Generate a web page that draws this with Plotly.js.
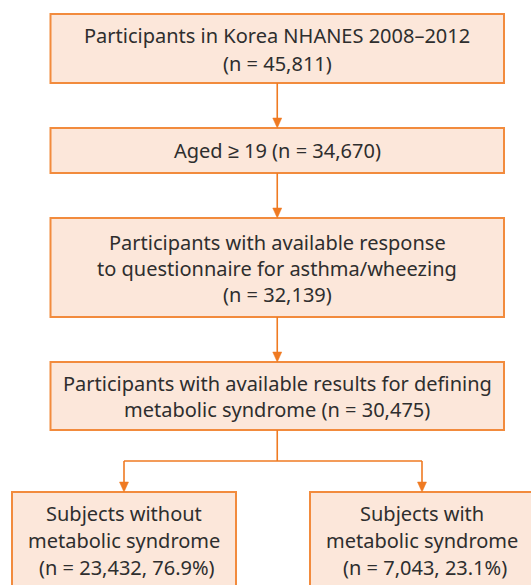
<!DOCTYPE html>
<html>
<head>
<meta charset="utf-8">
<script src="https://cdn.plot.ly/plotly-3.0.1.min.js"></script>
<style>html,body{margin:0;padding:0;background:#fff;}#chart{width:531px;height:585px;}</style>
</head>
<body>
<div id="chart"></div>
<script>
// ---- data ----
const stageText = [
  ["Participants in Korea NHANES 2008–2012"],
  ["Aged ≥ 19"],
  ["Participants with available response", "to questionnaire for asthma/wheezing"],
  ["Participants with available results for defining", "metabolic syndrome"]
];
const stageN = [45811, 34670, 32139, 30475];
const stageNInline = [false, true, false, true];
const groupText = [["Subjects without", "metabolic syndrome"], ["Subjects with", "metabolic syndrome"]];
const groupN = [23432, 7043];
const groupPct = [76.9, 23.1];

// ---- layout geometry (positions/styles) ----
const W = 531, H = 585;
const fill = '#fce7da', border = '#f28b3d', arrowCol = '#ef7a22', txtCol = '#2e2e2e';
const fontFam = '"Noto Sans", sans-serif', fontSize = 20;
const stageBox = [
  {x0: 50.5, x1: 504, y0: 14, y1: 83, lines: [35, 63]},
  {x0: 50.5, x1: 504, y0: 128, y1: 173, lines: [150]},
  {x0: 50.5, x1: 504, y0: 218, y1: 317, lines: [242, 268, 294]},
  {x0: 50.5, x1: 504, y0: 362, y1: 430, lines: [383, 409]}
];
const groupBox = [
  {x0: 12, x1: 236, y0: 492, y1: 600, lines: [513, 540, 567]},
  {x0: 310, x1: 534, y0: 492, y1: 600, lines: [513, 540, 567]}
];
const branchY = 461;

const fmt = v => v.toLocaleString('en-US');
const shapes = [], annotations = [];

function box(b) {
  shapes.push({type: 'rect', xref: 'x', yref: 'y', x0: b.x0, x1: b.x1, y0: b.y0, y1: b.y1,
    fillcolor: fill, line: {color: border, width: 2}, layer: 'below'});
}
function text(x, y, t, dx) {
  annotations.push({xref: 'x', yref: 'y', x: x, y: y, text: t, showarrow: false, xshift: dx || 0,
    xanchor: 'center', yanchor: 'middle', font: {family: fontFam, size: fontSize, color: txtCol}});
}
function vline(x, ya, yb) {
  shapes.push({type: 'line', xref: 'x', yref: 'y', x0: x, x1: x, y0: ya, y1: yb, line: {color: arrowCol, width: 1.6}});
}
function head(x, y) {
  shapes.push({type: 'path', xref: 'x', yref: 'y',
    path: `M ${x-4.5} ${y-10} L ${x+4.5} ${y-10} L ${x} ${y} Z`,
    fillcolor: arrowCol, line: {color: arrowCol, width: 0.5}});
}

stageText.forEach((lines, i) => {
  const b = stageBox[i];
  box(b);
  const all = lines.slice();
  const nStr = `(n = ${fmt(stageN[i])})`;
  if (stageNInline[i]) all[all.length - 1] = all[all.length - 1] + ' ' + nStr; else all.push(nStr);
  const cx = (b.x0 + b.x1) / 2;
  all.forEach((t, k) => text(cx, b.lines[k], t));
  if (i > 0) {
    const p = stageBox[i - 1];
    vline(cx, p.y1, b.y0 - 2);
    head(cx, b.y0);
  }
});

groupText.forEach((lines, i) => {
  const b = groupBox[i];
  box(b);
  const all = lines.concat([`(n = ${fmt(groupN[i])}, ${groupPct[i].toFixed(1)}%)`]);
  const cx = (b.x0 + b.x1) / 2;
  all.forEach((t, k) => text(cx, b.lines[k], t, k === 2 ? 3 : 0));
  vline(cx, branchY, b.y0 - 2);
  head(cx, b.y0);
});
const last = stageBox[stageBox.length - 1];
const mid = (last.x0 + last.x1) / 2;
vline(mid, last.y1, branchY);
shapes.push({type: 'line', xref: 'x', yref: 'y',
  x0: (groupBox[0].x0 + groupBox[0].x1) / 2, x1: (groupBox[1].x0 + groupBox[1].x1) / 2,
  y0: branchY, y1: branchY, line: {color: arrowCol, width: 1.6}});

const layout = {
  width: W, height: H, margin: {l: 0, r: 0, t: 0, b: 0},
  paper_bgcolor: '#fff', plot_bgcolor: '#fff',
  xaxis: {range: [0, W], visible: false, fixedrange: true},
  yaxis: {range: [H, 0], visible: false, fixedrange: true},
  shapes: shapes, annotations: annotations, showlegend: false
};
Plotly.newPlot('chart', [], layout, {staticPlot: true, displayModeBar: false});
</script>
</body>
</html>
